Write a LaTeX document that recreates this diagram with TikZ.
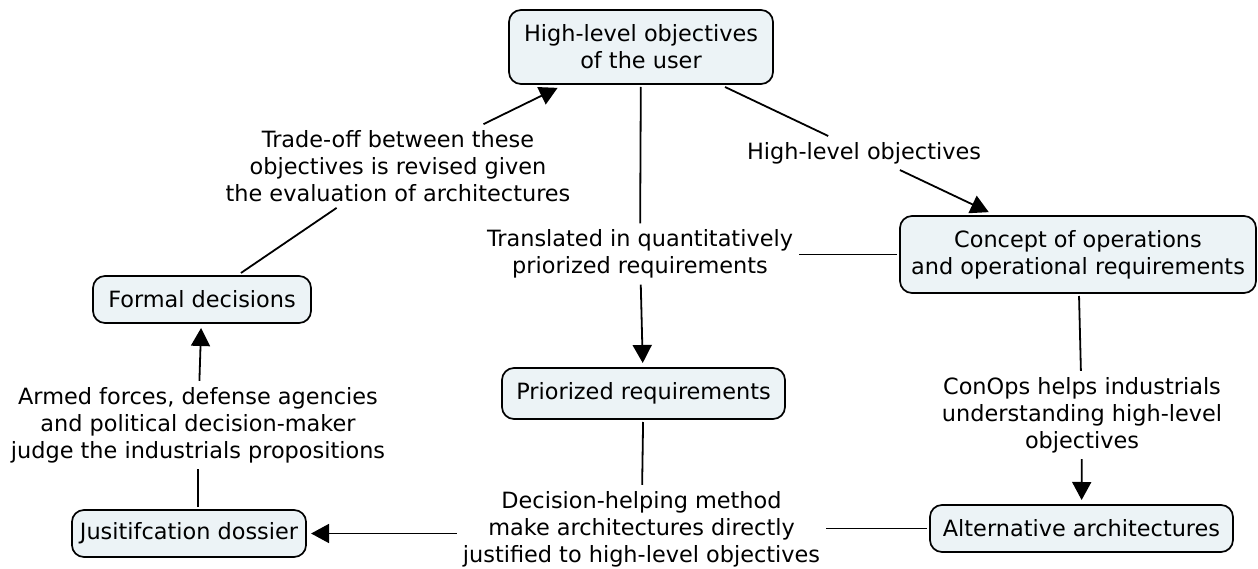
\documentclass[tikz,border=0pt]{standalone}
\usepackage{fontspec}
\setmainfont{DejaVu Sans}
\usetikzlibrary{arrows.meta, positioning}
\definecolor{conceptfill}{RGB}{236,243,246}

\begin{document}
\begin{tikzpicture}[x=1pt, y=-1pt,
    font=\fontsize{22.4}{27}\selectfont,
    concept/.style={draw, line width=1.7pt, rounded corners=12pt, fill=conceptfill,
        align=center, inner xsep=8pt, inner ysep=6pt, minimum height=47pt, outer sep=3pt},
    linkphrase/.style={align=center, inner sep=6pt},
    link/.style={line width=1.8pt},
    tolink/.style={line width=1.8pt, -{Triangle[width=19pt,length=18pt]}, shorten >=2pt}]
\useasboundingbox (0,0) rectangle (1258,569);

% concepts
\node[concept, minimum width=264pt, minimum height=74pt] (user) at (641,47) {High-level objectives\\of the user};
\node[concept, minimum width=356pt, minimum height=77pt] (conops) at (1078,254.5) {Concept of operations\\and operational requirements};
\node[concept, minimum width=218pt] (formal) at (202,299.5) {Formal decisions};
\node[concept, minimum width=283pt, minimum height=51pt] (prior) at (643.5,393.5) {Priorized requirements};
\node[concept, minimum width=232pt] (dossier) at (189,533.5) {Jusitifcation dossier};
\node[concept, minimum width=303pt] (altarch) at (1081.5,528.5) {Alternative architectures};

% linking phrases
\node[linkphrase] (tradeoff) at (398,166) {Trade-off between these\\objectives is revised given\\the evaluation of architectures};
\node[linkphrase] (hlobj) at (864,153) {High-level objectives};
\node[linkphrase] (transl) at (640,254) {Translated in quantitatively\\priorized requirements};
\node[linkphrase] (judge) at (198,425) {Armed forces, defense agencies\\and political decision-maker\\judge the industrials propositions};
\node[linkphrase] (helps) at (1082,415) {ConOps helps industrials\\understanding high-level\\objectives};
\node[linkphrase] (method) at (641.5,529) {Decision-helping method\\make architectures directly\\justified to high-level objectives};

% connections
\draw[link] (user) -- (transl);
\draw[tolink] (transl) -- (prior);
\draw[link] (conops.west) -- (transl.east |- conops.west);
\draw[link] (user) -- (hlobj);
\draw[tolink] (hlobj) -- (conops);
\draw[link] (formal) -- (tradeoff);
\draw[tolink] (tradeoff) -- (user);
\draw[link] (dossier.north -| judge.south) -- (judge.south);
\draw[tolink] (judge) -- (formal);
\draw[link] (prior) -- (method);
\draw[link] (altarch.west) -- (method.east |- altarch.west);
\draw[tolink] (method.west |- dossier.east) -- (dossier.east);
\draw[link] (conops) -- (helps);
\draw[tolink] (helps) -- (altarch);

\end{tikzpicture}
\end{document}
